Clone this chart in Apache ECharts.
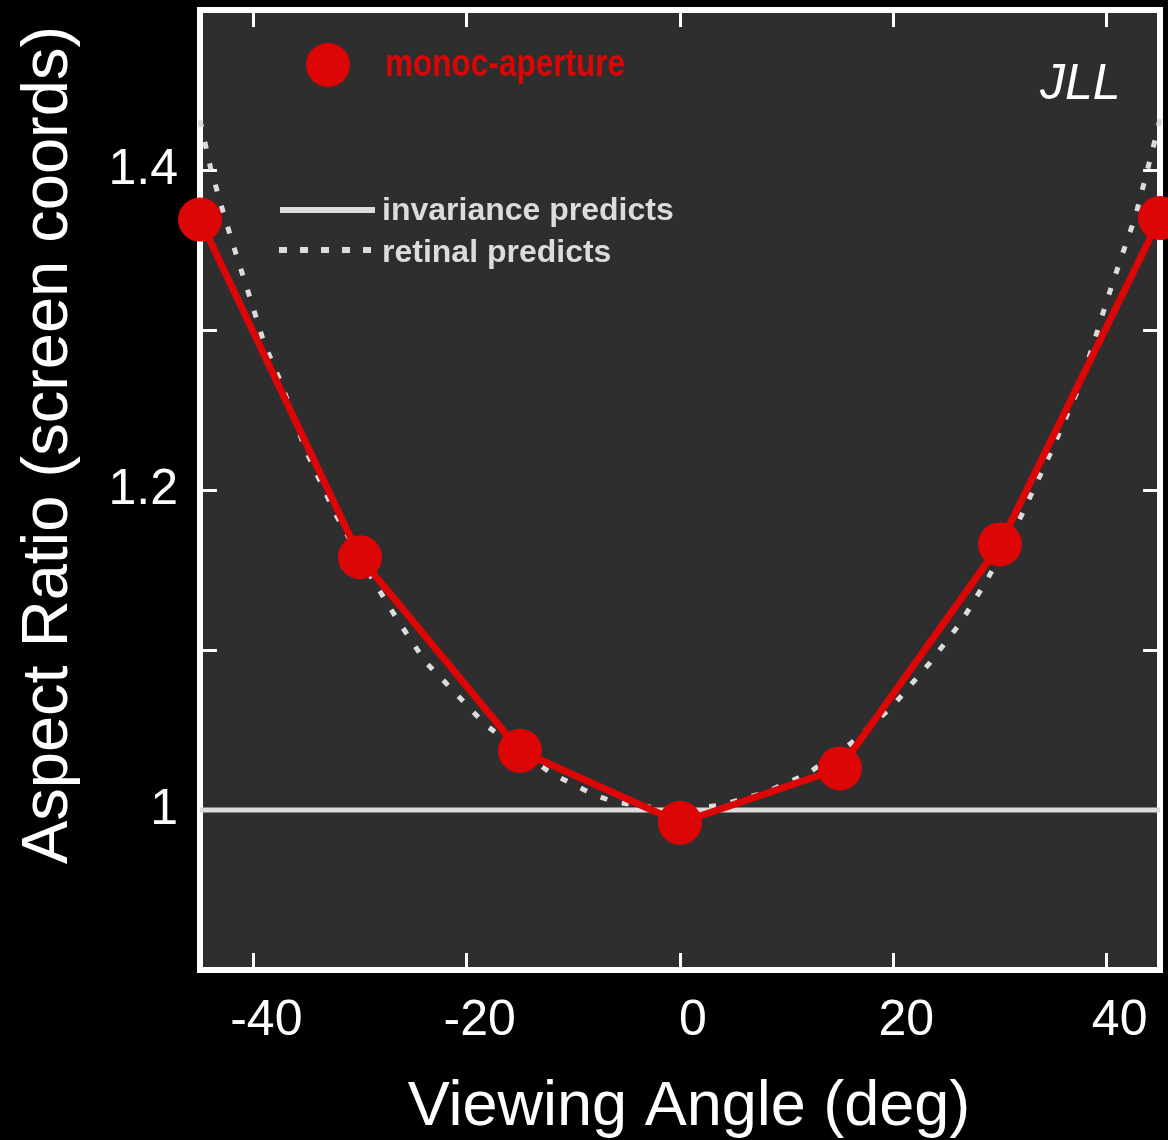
<!DOCTYPE html>
<html>
<head>
<meta charset="utf-8">
<script src="https://cdn.jsdelivr.net/npm/echarts@6/dist/echarts.min.js"></script>
<style>
  html, body { margin: 0; padding: 0; background: #000; }
  #chart { width: 1168px; height: 1140px; }
</style>
</head>
<body>
<div id="chart"></div>
<script>
// Measured aspect ratio for each viewing angle (monocular, aperture viewing)
const angles = [-45, -30, -15, 0, 15, 30, 45];
const monocAperture = [1.369, 1.158, 1.037, 0.992, 1.026, 1.166, 1.370];

// Retinal prediction curve
const retinalAngles = [-45, -44, -42.8, -41.6, -40.3, -39, -37.4, -35.1, -32.3, -28.9, -26.5, -23.8,
  -21.9, -18.2, -12.1, -8.2, -6.2, -3, 0, 3.8, 8, 11.9, 15.9, 19.8, 23.3, 26.3, 28.8, 32, 34.8,
  37.4, 38.7, 40, 41.3, 42.7, 43.7, 44.7, 45];
const retinalRatio = [1.431, 1.401, 1.373, 1.347, 1.320, 1.292, 1.267, 1.225, 1.185, 1.145, 1.119, 1.092,
  1.079, 1.053, 1.023, 1.010, 1.005, 1.002, 1.000, 1.003, 1.011, 1.0225, 1.041, 1.064, 1.091, 1.117, 1.144, 1.184, 1.224,
  1.264, 1.290, 1.318, 1.344, 1.371, 1.397, 1.423, 1.432];

// Invariance prediction: constant ratio of 1
const invarianceAngles = [-45, 45];
const invarianceRatio = [1, 1];

// Axis ticks and labels
const xTickValues = [-40, -20, 0, 20, 40];
const yTickValues = [1.0, 1.1, 1.2, 1.3, 1.4];
const yLabelValues = [1.0, 1.2, 1.4];

const FONT = "'Liberation Sans', Arial, Helvetica, sans-serif";
const RED = '#dc0606';
const GREY = '#dcdcdc';

const pairs = (xs, ys) => xs.map((x, i) => [x, ys[i]]);

const chart = echarts.init(document.getElementById('chart'), null, { renderer: 'canvas' });

const tickStyle = { show: true, inside: true, length: 17, lineStyle: { color: '#ffffff', width: 3 } };
const hiddenLine = { show: false, onZero: false };

chart.setOption({
  backgroundColor: '#000000',
  animation: false,
  grid: {
    left: 200, top: 10, width: 960, height: 960,
    show: true,
    backgroundColor: '#2e2e2e',
    borderColor: '#ffffff',
    borderWidth: 6,
    containLabel: false,
    outerBoundsMode: 'none'
  },
  xAxis: [
    {
      type: 'value', min: -45, max: 45, position: 'bottom',
      axisLine: hiddenLine,
      axisTick: Object.assign({ customValues: xTickValues }, tickStyle),
      splitLine: { show: false },
      axisLabel: {
        customValues: xTickValues,
        color: '#ffffff', fontFamily: FONT, fontSize: 50, margin: 26,
        padding: [0, 0, 0, 26]
      },
      name: 'Viewing Angle (deg)',
      nameLocation: 'middle',
      nameGap: 106,
      nameTextStyle: { color: '#ffffff', fontFamily: FONT, fontSize: 63, padding: [0, 0, 0, 18] }
    },
    {
      type: 'value', min: -45, max: 45, position: 'top',
      axisLine: hiddenLine,
      axisTick: Object.assign({ customValues: xTickValues }, tickStyle),
      splitLine: { show: false },
      axisLabel: { show: false }
    }
  ],
  yAxis: [
    {
      type: 'value', min: 0.9, max: 1.5, position: 'left',
      axisLine: hiddenLine,
      axisTick: Object.assign({ customValues: yTickValues }, tickStyle),
      splitLine: { show: false },
      axisLabel: {
        customValues: yLabelValues,
        color: '#ffffff', fontFamily: FONT, fontSize: 50, margin: 22,
        formatter: v => String(Math.round(v * 10) / 10)
      },
      name: 'Aspect Ratio (screen coords)',
      nameLocation: 'middle',
      nameRotate: 90,
      nameGap: 118,
      nameTextStyle: { color: '#ffffff', fontFamily: FONT, fontSize: 65, padding: [0, 0, 0, 90] }
    },
    {
      type: 'value', min: 0.9, max: 1.5, position: 'right',
      axisLine: hiddenLine,
      axisTick: Object.assign({ customValues: yTickValues }, tickStyle),
      splitLine: { show: false },
      axisLabel: { show: false }
    }
  ],
  series: [
    {
      name: 'invariance predicts',
      type: 'line',
      data: pairs(invarianceAngles, invarianceRatio),
      symbol: 'none',
      lineStyle: { color: GREY, width: 5 },
      z: 2,
      silent: true
    },
    {
      name: 'retinal predicts',
      type: 'line',
      data: pairs(retinalAngles, retinalRatio),
      symbol: 'none',
      lineStyle: { color: GREY, width: 5, type: [7, 15], cap: 'butt' },
      z: 3,
      silent: true
    },
    {
      name: 'monoc-aperture',
      type: 'line',
      data: pairs(angles, monocAperture),
      symbol: 'circle',
      symbolSize: 44,
      clip: false,
      itemStyle: { color: RED },
      lineStyle: { color: RED, width: 7 },
      z: 5
    }
  ],
  graphic: [
    // legend: measured series
    { type: 'circle', shape: { cx: 328, cy: 65, r: 22 }, style: { fill: RED }, z: 10 },
    {
      type: 'text', x: 385, y: 66, scaleX: 0.83, z: 10,
      style: { text: 'monoc-aperture', fill: RED, font: "bold 38px " + FONT, textVerticalAlign: 'middle' }
    },
    // legend: predictions
    { type: 'line', shape: { x1: 280, y1: 210, x2: 375, y2: 210 }, style: { stroke: GREY, lineWidth: 6 }, z: 10 },
    {
      type: 'text', x: 382, y: 211, z: 10,
      style: { text: 'invariance predicts', fill: GREY, font: "bold 32px " + FONT, textVerticalAlign: 'middle' }
    },
    { type: 'line', shape: { x1: 279, y1: 250, x2: 375, y2: 250 }, style: { stroke: GREY, lineWidth: 6, lineDash: [8, 13] }, z: 10 },
    {
      type: 'text', x: 382, y: 253, z: 10,
      style: { text: 'retinal predicts', fill: GREY, font: "bold 32px " + FONT, textVerticalAlign: 'middle' }
    },
    // observer initials
    {
      type: 'text', x: 1040, y: 85, z: 10,
      style: { text: 'JLL', fill: '#ffffff', font: "italic 50px " + FONT, textVerticalAlign: 'middle' }
    }
  ]
});
</script>
</body>
</html>
